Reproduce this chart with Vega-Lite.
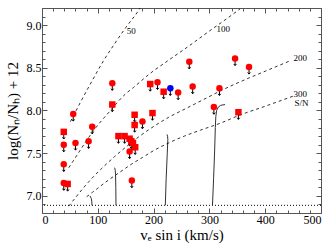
{
  "$schema": "https://vega.github.io/schema/vega-lite/v6.json",
  "width": 279,
  "height": 205,
  "autosize": "none",
  "padding": {"left": 42, "top": 8, "right": 15, "bottom": 39},
  "config": {
    "font": "Liberation Serif",
    "view": {"stroke": "#555", "strokeWidth": 1},
    "axis": {"grid": false, "domain": false, "tickColor": "#555", "labelFont": "Liberation Serif", "titleFont": "Liberation Serif", "labelFontSize": 12, "titleFontSize": 15, "titleFontWeight": "normal", "labelColor": "#000", "titleColor": "#000"}
  },
  "datasets": {
    "pts": [
      {"v": 39, "n": 7.75, "m": "square", "g": "red"},
      {"v": 39, "n": 7.60, "m": "circle", "g": "red"},
      {"v": 39, "n": 7.37, "m": "circle", "g": "red"},
      {"v": 39, "n": 7.15, "m": "circle", "g": "red"},
      {"v": 46, "n": 7.14, "m": "square", "g": "red"},
      {"v": 56, "n": 7.96, "m": "circle", "g": "red"},
      {"v": 60, "n": 7.62, "m": "circle", "g": "red"},
      {"v": 83.5, "n": 7.64, "m": "circle", "g": "red"},
      {"v": 90, "n": 7.81, "m": "circle", "g": "red"},
      {"v": 126, "n": 8.07, "m": "square", "g": "red"},
      {"v": 126, "n": 8.32, "m": "circle", "g": "red"},
      {"v": 137, "n": 7.70, "m": "square", "g": "red"},
      {"v": 148, "n": 7.70, "m": "square", "g": "red"},
      {"v": 157, "n": 7.67, "m": "square", "g": "red"},
      {"v": 160, "n": 7.64, "m": "square", "g": "red"},
      {"v": 163, "n": 7.62, "m": "square", "g": "red"},
      {"v": 167, "n": 7.57, "m": "square", "g": "red"},
      {"v": 157, "n": 7.52, "m": "circle", "g": "red"},
      {"v": 161, "n": 7.18, "m": "circle", "g": "red"},
      {"v": 166, "n": 7.95, "m": "square", "g": "red"},
      {"v": 166, "n": 7.83, "m": "square", "g": "red"},
      {"v": 180, "n": 7.87, "m": "circle", "g": "red"},
      {"v": 198, "n": 7.97, "m": "square", "g": "red"},
      {"v": 194, "n": 8.31, "m": "square", "g": "red"},
      {"v": 207, "n": 8.33, "m": "circle", "g": "red"},
      {"v": 218, "n": 8.22, "m": "square", "g": "red"},
      {"v": 230, "n": 8.26, "m": "circle", "g": "blue"},
      {"v": 244, "n": 8.21, "m": "circle", "g": "red"},
      {"v": 264, "n": 8.57, "m": "circle", "g": "red"},
      {"v": 270, "n": 8.28, "m": "circle", "g": "red"},
      {"v": 308, "n": 8.04, "m": "circle", "g": "red"},
      {"v": 318, "n": 8.26, "m": "circle", "g": "red"},
      {"v": 346, "n": 8.61, "m": "circle", "g": "red"},
      {"v": 371, "n": 8.51, "m": "circle", "g": "red"},
      {"v": 352, "n": 7.98, "m": "square", "g": "red"}
    ],
    "dashed": [
      {"c": "50", "v": 51, "n": 7.87}, {"c": "50", "v": 70, "n": 8.11}, {"c": "50", "v": 90, "n": 8.35},
      {"c": "50", "v": 110, "n": 8.58}, {"c": "50", "v": 130, "n": 8.78}, {"c": "50", "v": 150, "n": 8.97},
      {"c": "50", "v": 173, "n": 9.17}, {"c": "50", "v": 176, "n": 9.2},
      {"c": "100", "v": 48, "n": 7.33}, {"c": "100", "v": 63, "n": 7.48}, {"c": "100", "v": 78, "n": 7.63},
      {"c": "100", "v": 93, "n": 7.77}, {"c": "100", "v": 120, "n": 7.98}, {"c": "100", "v": 149, "n": 8.19},
      {"c": "100", "v": 164, "n": 8.27}, {"c": "100", "v": 195, "n": 8.44}, {"c": "100", "v": 225, "n": 8.58},
      {"c": "100", "v": 260, "n": 8.74}, {"c": "100", "v": 300, "n": 8.93}, {"c": "100", "v": 330, "n": 9.07},
      {"c": "100", "v": 355, "n": 9.19},
      {"c": "200", "v": 48, "n": 6.88}, {"c": "200", "v": 60, "n": 6.98}, {"c": "200", "v": 75, "n": 7.10},
      {"c": "200", "v": 90, "n": 7.21}, {"c": "200", "v": 110, "n": 7.34}, {"c": "200", "v": 130, "n": 7.46},
      {"c": "200", "v": 150, "n": 7.57}, {"c": "200", "v": 173, "n": 7.69}, {"c": "200", "v": 197, "n": 7.80},
      {"c": "200", "v": 227, "n": 7.92}, {"c": "200", "v": 260, "n": 8.03}, {"c": "200", "v": 290, "n": 8.13},
      {"c": "200", "v": 323, "n": 8.24}, {"c": "200", "v": 360, "n": 8.35}, {"c": "200", "v": 400, "n": 8.46},
      {"c": "200", "v": 444, "n": 8.58},
      {"c": "300", "v": 80, "n": 6.99}, {"c": "300", "v": 90, "n": 7.04}, {"c": "300", "v": 100, "n": 7.09},
      {"c": "300", "v": 120, "n": 7.19}, {"c": "300", "v": 140, "n": 7.28}, {"c": "300", "v": 160, "n": 7.37},
      {"c": "300", "v": 180, "n": 7.45}, {"c": "300", "v": 200, "n": 7.53}, {"c": "300", "v": 227, "n": 7.62},
      {"c": "300", "v": 255, "n": 7.70}, {"c": "300", "v": 284, "n": 7.77}, {"c": "300", "v": 323, "n": 7.86},
      {"c": "300", "v": 352, "n": 7.94}, {"c": "300", "v": 400, "n": 8.05}, {"c": "300", "v": 451, "n": 8.17}
    ],
    "solid": [
      {"c": "a", "k": 1, "v": 89.6, "n": 6.89}, {"c": "a", "k": 2, "v": 89.3, "n": 6.93}, {"c": "a", "k": 3, "v": 88.3, "n": 6.97}, {"c": "a", "k": 4, "v": 86, "n": 7.0},
      {"c": "b", "k": 1, "v": 132.6, "n": 6.89}, {"c": "b", "k": 2, "v": 132.3, "n": 7.1}, {"c": "b", "k": 3, "v": 131.8, "n": 7.25}, {"c": "b", "k": 4, "v": 131.3, "n": 7.3}, {"c": "b", "k": 5, "v": 130.5, "n": 7.325}, {"c": "b", "k": 6, "v": 129.5, "n": 7.33},
      {"c": "c", "k": 1, "v": 221, "n": 6.89}, {"c": "c", "k": 2, "v": 222.5, "n": 7.2}, {"c": "c", "k": 3, "v": 224.5, "n": 7.5}, {"c": "c", "k": 4, "v": 225.5, "n": 7.66}, {"c": "c", "k": 5, "v": 225, "n": 7.7}, {"c": "c", "k": 6, "v": 224, "n": 7.72},
      {"c": "d", "k": 1, "v": 305.5, "n": 6.89}, {"c": "d", "k": 2, "v": 307.5, "n": 7.2}, {"c": "d", "k": 3, "v": 309.5, "n": 7.55}, {"c": "d", "k": 4, "v": 310.6, "n": 7.8}, {"c": "d", "k": 5, "v": 311.5, "n": 7.93}, {"c": "d", "k": 6, "v": 313, "n": 8.0}, {"c": "d", "k": 7, "v": 316, "n": 8.04}, {"c": "d", "k": 8, "v": 320, "n": 8.06}, {"c": "d", "k": 9, "v": 328, "n": 8.07}
    ],
    "labels": [
      {"t": "50", "v": 160, "n": 8.93},
      {"t": "100", "v": 325, "n": 8.955},
      {"t": "200", "v": 463, "n": 8.62},
      {"t": "300", "v": 463, "n": 8.19},
      {"t": "S/N", "v": 465, "n": 8.085}
    ],
    "floor": [{"n": 6.89}]
  },
  "layer": [
    {
      "data": {"name": "floor"},
      "mark": {"type": "rule", "strokeDash": [1, 2], "strokeWidth": 1, "color": "#000"},
      "encoding": {
        "y": {"field": "n", "type": "quantitative", "scale": {"domain": [6.8, 9.2], "nice": false, "zero": false},
          "axis": {"orient": "right", "title": null, "labels": false,
            "values": [6.8, 6.9, 7.0, 7.1, 7.2, 7.3, 7.4, 7.5, 7.6, 7.7, 7.8, 7.9, 8.0, 8.1, 8.2, 8.3, 8.4, 8.5, 8.6, 8.7, 8.8, 8.9, 9.0, 9.1, 9.2],
            "tickSize": {"condition": {"test": "abs(datum.value*2 - round(datum.value*2)) < 0.001", "value": -5}, "value": -3}}}
      }
    },
    {
      "data": {"name": "solid"},
      "mark": {"type": "line", "color": "#333", "strokeWidth": 1},
      "encoding": {
        "x": {"field": "v", "type": "quantitative", "axis": null},
        "y": {"field": "n", "type": "quantitative", "axis": null},
        "detail": {"field": "c"},
        "order": {"field": "k"}
      }
    },
    {
      "data": {"name": "dashed"},
      "mark": {"type": "line", "color": "#000", "strokeWidth": 0.8, "strokeDash": [3, 3], "interpolate": "monotone"},
      "encoding": {
        "x": {"field": "v", "type": "quantitative", "scale": {"domain": [0, 500], "nice": false},
          "axis": {"orient": "top", "title": null, "labels": false,
            "values": [0, 20, 40, 60, 80, 100, 120, 140, 160, 180, 200, 220, 240, 260, 280, 300, 320, 340, 360, 380, 400, 420, 440, 460, 480, 500],
            "tickSize": {"condition": {"test": "datum.value % 100 === 0", "value": -5}, "value": -3}}},
        "y": {"field": "n", "type": "quantitative", "axis": null},
        "detail": {"field": "c"}
      }
    },
    {
      "data": {"name": "labels"},
      "mark": {"type": "text", "fontSize": 9, "font": "Liberation Serif", "color": "#000"},
      "encoding": {
        "x": {"field": "v", "type": "quantitative", "axis": null},
        "y": {"field": "n", "type": "quantitative", "axis": null},
        "text": {"field": "t"}
      }
    },
    {
      "data": {"name": "pts"},
      "mark": {"type": "point", "shape": "M0,-1L0,1M-0.5,0.4L0,1L0.5,0.4", "filled": false, "stroke": "#000", "strokeWidth": 1, "size": 28, "yOffset": 4.5, "opacity": 1},
      "encoding": {
        "x": {"field": "v", "type": "quantitative", "axis": null},
        "y": {"field": "n", "type": "quantitative", "axis": null}
      }
    },
    {
      "data": {"name": "pts"},
      "mark": {"type": "point", "filled": true, "size": 42, "opacity": 1},
      "encoding": {
        "x": {"field": "v", "type": "quantitative",
          "axis": {"orient": "bottom", "title": "vₑ sin i (km/s)", "format": "d",
            "values": [0, 20, 40, 60, 80, 100, 120, 140, 160, 180, 200, 220, 240, 260, 280, 300, 320, 340, 360, 380, 400, 420, 440, 460, 480, 500],
            "labelExpr": "datum.value % 100 === 0 ? datum.label : ''",
            "tickSize": {"condition": {"test": "datum.value % 100 === 0", "value": -5}, "value": -3},
            "labelPadding": 6, "titlePadding": 2}},
        "y": {"field": "n", "type": "quantitative",
          "axis": {"orient": "left", "title": "log(Nₙ/Nₕ) + 12", "format": ".1f",
            "values": [6.8, 6.9, 7.0, 7.1, 7.2, 7.3, 7.4, 7.5, 7.6, 7.7, 7.8, 7.9, 8.0, 8.1, 8.2, 8.3, 8.4, 8.5, 8.6, 8.7, 8.8, 8.9, 9.0, 9.1, 9.2],
            "labelExpr": "abs(datum.value*2 - round(datum.value*2)) < 0.001 ? datum.label : ''",
            "tickSize": {"condition": {"test": "abs(datum.value*2 - round(datum.value*2)) < 0.001", "value": -5}, "value": -3},
            "labelPadding": 6, "titlePadding": 6}},
        "shape": {"field": "m", "type": "nominal", "scale": {"domain": ["circle", "square"], "range": ["circle", "square"]}, "legend": null},
        "color": {"field": "g", "type": "nominal", "scale": {"domain": ["red", "blue"], "range": ["#ff0000", "#0000ff"]}, "legend": null}
      }
    }
  ],
  "resolve": {"axis": {"x": "independent", "y": "independent"}}
}
